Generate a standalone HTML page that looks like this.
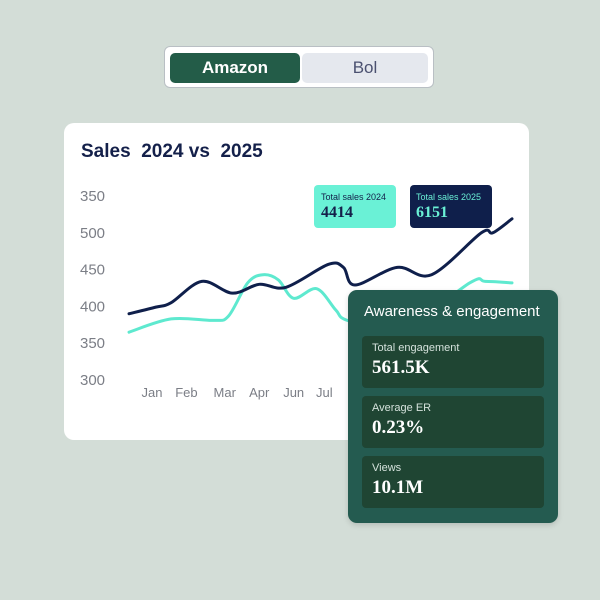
<!DOCTYPE html>
<html><head><meta charset="utf-8"><style>
body{margin:0;width:600px;height:600px;background:#d3ddd7;position:relative;overflow:hidden;font-family:"Liberation Sans",sans-serif}
.abs{position:absolute}
#toggle{left:164px;top:46px;width:270px;height:42px;background:#fff;border:1px solid #b9bfc4;border-radius:6px;box-sizing:border-box}
.tb{top:6px;height:30px;border-radius:5px;font-size:17px;display:flex;align-items:center;justify-content:center}
#card{left:64px;top:123px;width:465px;height:317px;background:#fff;border-radius:10px}
#panel{left:348px;top:290px;width:210px;height:233px;background:#245b50;border-radius:9px;box-shadow:0 2px 6px rgba(0,0,0,.15)}
.mbox{left:14px;width:182px;height:52px;background:#1f4533;border-radius:4px}
.ml{left:10px;top:6px;font-size:11px;color:#d5e2dc}
.mv{left:10px;top:21px;font-size:19px;font-weight:bold;color:#fff;font-family:"Liberation Serif",serif}
.leg{top:185px;width:82px;height:43px;border-radius:4px}
</style></head><body>
<div id="toggle" class="abs">
 <div class="abs tb" style="left:5px;width:130px;background:#235c48;color:#fff;font-weight:bold">Amazon</div>
 <div class="abs tb" style="left:137px;width:126px;background:#e5e8ee;color:#4b5170">Bol</div>
</div>
<div id="card" class="abs"></div>
<div class="abs" style="left:81px;top:141px;font-size:19px;font-weight:bold;color:#14204a">Sales&nbsp; 2024 vs&nbsp; 2025</div>
<div class="abs leg" style="left:314px;background:#6af1d6;color:#14204a">
 <div class="abs" style="left:7px;top:7px;font-size:9px">Total sales 2024</div>
 <div class="abs" style="left:7px;top:19px;font-size:16px;font-weight:bold;font-family:'Liberation Serif',serif">4414</div></div>
<div class="abs leg" style="left:410px;background:#0f1f4b;color:#6af1d6">
 <div class="abs" style="left:6px;top:7px;font-size:9px">Total sales 2025</div>
 <div class="abs" style="left:6px;top:19px;font-size:16px;font-weight:bold;font-family:'Liberation Serif',serif">6151</div></div>
<svg id="chart" class="abs" style="left:0;top:0" width="600" height="600"></svg>
<div id="panel" class="abs">
 <div class="abs" style="left:16px;top:13px;font-size:15px;color:#fff">Awareness &amp; engagement</div>
 <div class="abs mbox" style="top:46px"><div class="abs ml">Total engagement</div><div class="abs mv">561.5K</div></div>
 <div class="abs mbox" style="top:106px"><div class="abs ml">Average ER</div><div class="abs mv">0.23%</div></div>
 <div class="abs mbox" style="top:166px"><div class="abs ml">Views</div><div class="abs mv">10.1M</div></div>
</div>
<script>
const yTicks=["350","500","450","400","350","300"];
const yTickVals=[550,500,450,400,350,300];
const months=["Jan","Feb","Mar","Apr","Jun","Jul"];
const monthPos=[0.06,0.15,0.25,0.34,0.43,0.51];
const pos2025=[0,0.07,0.11,0.19,0.27,0.34,0.41,0.52,0.56,0.59,0.70,0.79,0.92,0.95,1];
const sales2025=[390,399,405,434,418,430,426,457,453,429,453,443,500,500,519];
const pos2024=[0,0.11,0.22,0.26,0.31,0.35,0.39,0.43,0.49,0.54,0.57,0.70,0.89,0.93,1];
const sales2024=[365,383,381,387,432,443,436,411,424,395,381,365,432,434,432];
const svg=document.getElementById('chart');const NS='http://www.w3.org/2000/svg';
const X=t=>129+t*(512-129);
const Y=v=>380-(v-300)*0.736;
yTicks.forEach((l,i)=>{const t=document.createElementNS(NS,'text');


t.setAttribute('x',80);t.setAttribute('y',Y(yTickVals[i])+5);t.setAttribute('font-size','15');t.setAttribute('fill','#7b7e86');t.setAttribute('font-family','Liberation Sans, sans-serif');t.textContent=l;svg.appendChild(t);});
months.forEach((m,i)=>{const t=document.createElementNS(NS,'text');


t.setAttribute('x',X(monthPos[i]));t.setAttribute('y',397);t.setAttribute('text-anchor','middle');t.setAttribute('font-size','13');t.setAttribute('fill','#7b7e86');t.setAttribute('font-family','Liberation Sans, sans-serif');t.textContent=m;svg.appendChild(t);});
function path(ps,vs){const p=ps.map((t,i)=>[X(t),Y(vs[i])]);let d='M'+p[0];
for(let i=0;i<p.length-1;i++){const p0=p[i-1]||p[i],p1=p[i],p2=p[i+1],p3=p[i+2]||p2;
const c1=[p1[0]+(p2[0]-p0[0])/6,p1[1]+(p2[1]-p0[1])/6],c2=[p2[0]-(p3[0]-p1[0])/6,p2[1]-(p3[1]-p1[1])/6];
d+='C'+c1+' '+c2+' '+p2;}return d;}
[[pos2024,sales2024,'#5ee9cf','series-2024'],[pos2025,sales2025,'#0f1f4b','series-2025']].forEach(s=>{const e=document.createElementNS(NS,'path');


e.setAttribute('d',path(s[0],s[1]));e.setAttribute('fill','none');e.setAttribute('stroke',s[2]);e.setAttribute('stroke-width','3');e.setAttribute('stroke-linecap','round');svg.appendChild(e);});
</script>
</body></html>
